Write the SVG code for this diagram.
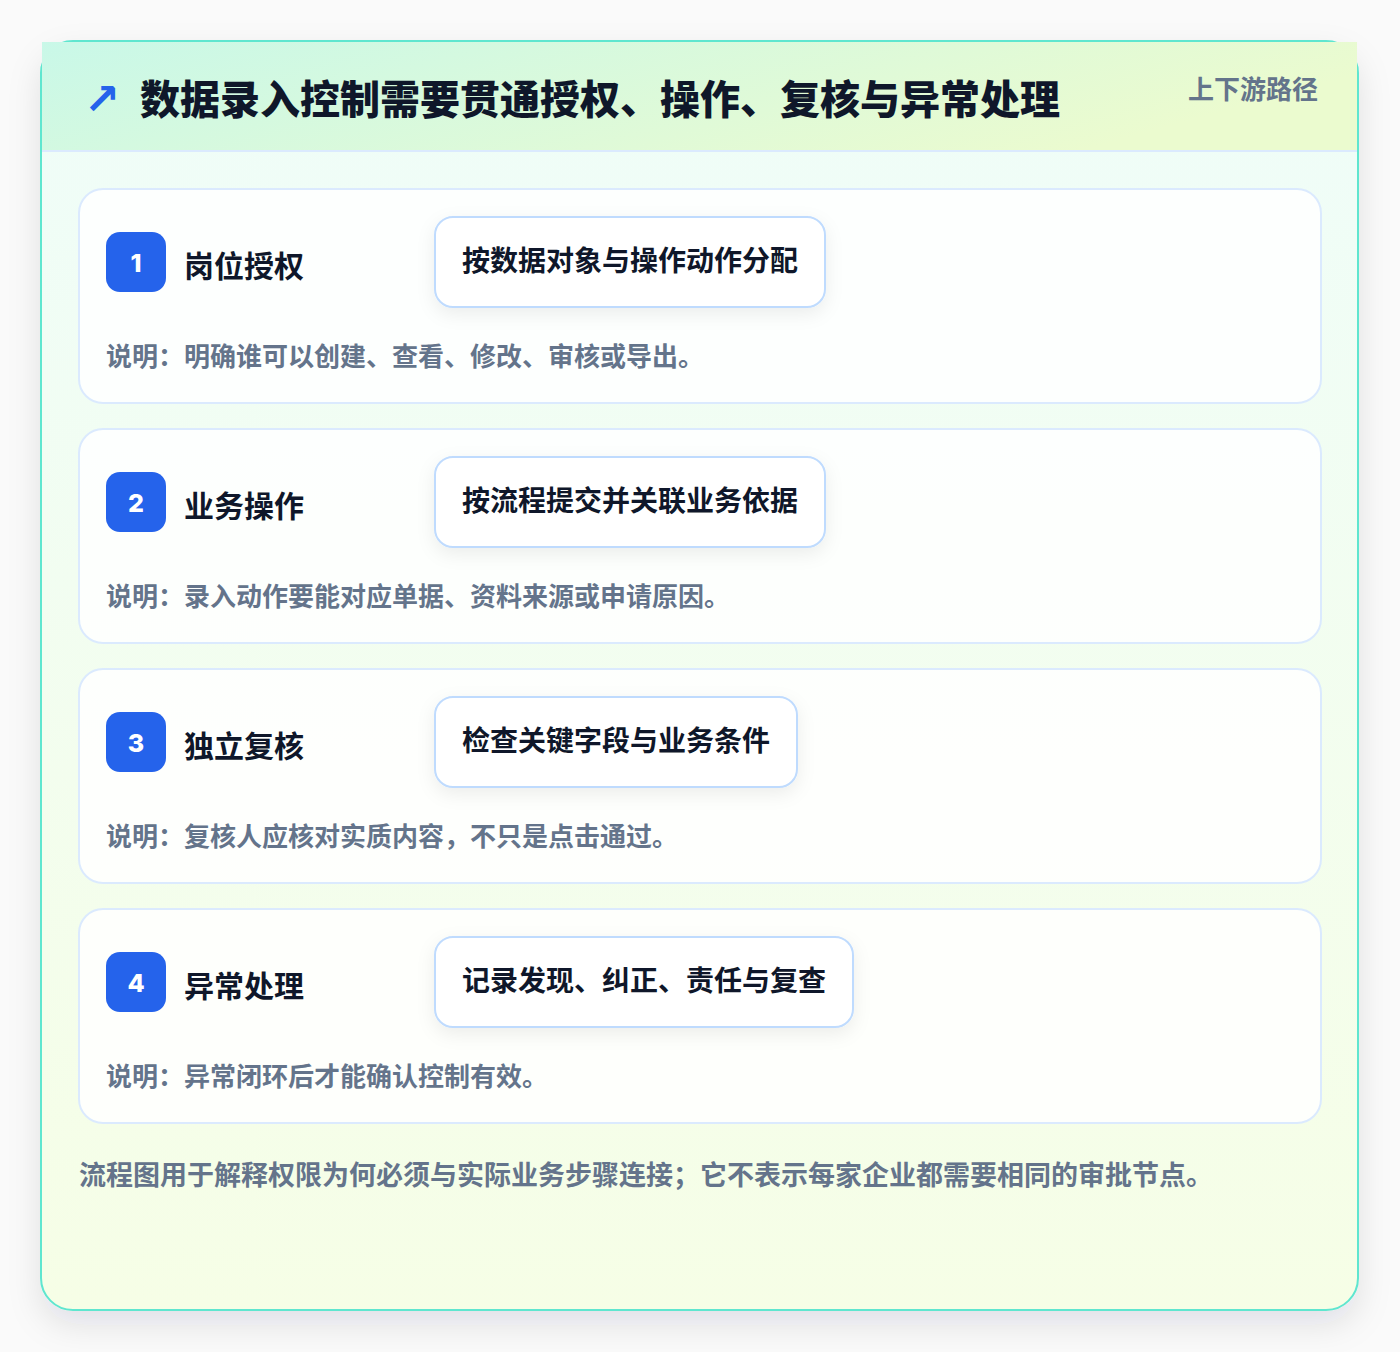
<svg xmlns="http://www.w3.org/2000/svg" width="1400" height="1352" viewBox="0 0 1400 1352">
<defs>
<linearGradient id="panelBg" x1="0" y1="0" x2="0" y2="1">
<stop offset="0" stop-color="#effdf9"/>
<stop offset="1" stop-color="#f6fee6"/>
</linearGradient>
<linearGradient id="headBg" x1="0" y1="0" x2="1" y2="0.3">
<stop offset="0" stop-color="#c9f8e8"/>
<stop offset="1" stop-color="#ebfbcf"/>
</linearGradient>
<filter id="panelShadow" x="-10%" y="-10%" width="120%" height="125%">
<feDropShadow dx="0" dy="14" stdDeviation="16" flood-color="#0f172a" flood-opacity="0.10"/>
</filter>
<filter id="pillShadow" x="-20%" y="-40%" width="140%" height="180%">
<feDropShadow dx="0" dy="6" stdDeviation="9" flood-color="#0f172a" flood-opacity="0.07"/>
</filter>
</defs>
<style>
text{font-family:"Noto Sans CJK SC","Noto Sans",sans-serif;font-weight:700}
.card{fill:#ffffff;fill-opacity:0.85;stroke:#dbeafe;stroke-width:2}
.badge{fill:#2563eb}
.num{fill:#ffffff;font-family:Inter,"Liberation Sans",sans-serif;font-size:25px;font-weight:800;text-anchor:middle}
.title{fill:#0f172a;font-size:30px;font-weight:700}
.pill{fill:#ffffff;stroke:#bfdbfe;stroke-width:2}
.pilltxt{fill:#0f172a;font-size:28px;font-weight:700}
.desc{fill:#64748b;font-size:26px}
</style>
<rect width="1400" height="1352" fill="#fafafa"/>
<g id="panel">
<rect x="41" y="41" width="1317" height="1269" rx="32" fill="url(#panelBg)" stroke="#5fe6cf" stroke-width="2" filter="url(#panelShadow)"/>
<rect x="42" y="42" width="1315" height="109" fill="url(#headBg)"/>
<line x1="42" y1="151" x2="1357" y2="151" stroke="#dbeafe" stroke-width="2"/>
<text x="84" y="114" font-size="43" fill="#2563eb" style="font-family:'DejaVu Sans',sans-serif;font-weight:700">↗</text>
<text x="140" y="114" font-size="40" fill="#0f172a" style="font-weight:800">数据录入控制需要贯通授权、操作、复核与异常处理</text>
<text x="1318" y="99" font-size="26" fill="#64748b" text-anchor="end">上下游路径</text>
</g>
<g id="connectors"></g>
<g id="step1">
<rect class="card" x="79" y="189" width="1242" height="214" rx="24"/>
<rect class="badge" x="106" y="232" width="60" height="60" rx="14"/>
<text class="num" x="136" y="272">1</text>
<text class="title" x="184" y="277">岗位授权</text>
<rect class="pill" x="435" y="217" width="390" height="90" rx="18" filter="url(#pillShadow)"/>
<text class="pilltxt" x="462" y="271">按数据对象与操作动作分配</text>
<text class="desc" x="106" y="366">说明：明确谁可以创建、查看、修改、审核或导出。</text>
</g>
<g id="step2">
<rect class="card" x="79" y="429" width="1242" height="214" rx="24"/>
<rect class="badge" x="106" y="472" width="60" height="60" rx="14"/>
<text class="num" x="136" y="512">2</text>
<text class="title" x="184" y="517">业务操作</text>
<rect class="pill" x="435" y="457" width="390" height="90" rx="18" filter="url(#pillShadow)"/>
<text class="pilltxt" x="462" y="511">按流程提交并关联业务依据</text>
<text class="desc" x="106" y="606">说明：录入动作要能对应单据、资料来源或申请原因。</text>
</g>
<g id="step3">
<rect class="card" x="79" y="669" width="1242" height="214" rx="24"/>
<rect class="badge" x="106" y="712" width="60" height="60" rx="14"/>
<text class="num" x="136" y="752">3</text>
<text class="title" x="184" y="757">独立复核</text>
<rect class="pill" x="435" y="697" width="362" height="90" rx="18" filter="url(#pillShadow)"/>
<text class="pilltxt" x="462" y="751">检查关键字段与业务条件</text>
<text class="desc" x="106" y="846">说明：复核人应核对实质内容，不只是点击通过。</text>
</g>
<g id="step4">
<rect class="card" x="79" y="909" width="1242" height="214" rx="24"/>
<rect class="badge" x="106" y="952" width="60" height="60" rx="14"/>
<text class="num" x="136" y="992">4</text>
<text class="title" x="184" y="997">异常处理</text>
<rect class="pill" x="435" y="937" width="418" height="90" rx="18" filter="url(#pillShadow)"/>
<text class="pilltxt" x="462" y="991">记录发现、纠正、责任与复查</text>
<text class="desc" x="106" y="1086">说明：异常闭环后才能确认控制有效。</text>
</g>
<g id="footer">
<text x="79" y="1185" font-size="27" fill="#64748b">流程图用于解释权限为何必须与实际业务步骤连接；它不表示每家企业都需要相同的审批节点。</text>
</g>
</svg>
